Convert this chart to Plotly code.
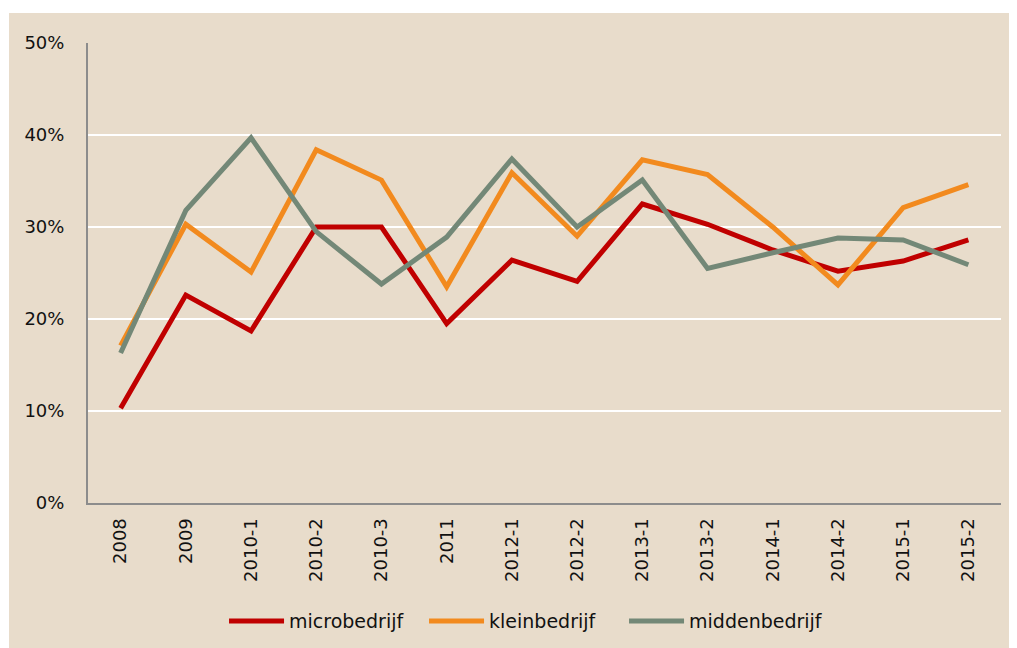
import plotly.graph_objects as go

periods = ["2008", "2009", "2010-1", "2010-2", "2010-3", "2011", "2012-1",
           "2012-2", "2013-1", "2013-2", "2014-1", "2014-2", "2015-1", "2015-2"]

micro = [0.103, 0.226, 0.187, 0.300, 0.300, 0.195, 0.264, 0.241,
         0.325, 0.303, 0.275, 0.252, 0.263, 0.286]
klein = [0.171, 0.303, 0.251, 0.384, 0.351, 0.235, 0.359, 0.290,
         0.373, 0.357, 0.300, 0.237, 0.321, 0.346]
midden = [0.163, 0.318, 0.397, 0.295, 0.238, 0.289, 0.374, 0.300,
          0.351, 0.255, 0.272, 0.288, 0.286, 0.259]

series = [("microbedrijf", micro, "#C00000"),
          ("kleinbedrijf", klein, "#F28A1E"),
          ("middenbedrijf", midden, "#738877")]

bg = "#E8DCCB"

fig = go.Figure()
for name, vals, col in series:
    fig.add_trace(go.Scatter(x=periods, y=vals, mode="lines", name=name,
                             line=dict(color=col, width=5)))

# page has an 8px body margin, so the figure is drawn at (8, 8)
W, H = 1009, 640
ml, mr, mt, mb = 80, 16, 35, 145
pw, ph = W - ml - mr, H - mt - mb

# beige panel with a thin white edge on top and left
fig.add_shape(type="rect", xref="paper", yref="paper", layer="below",
              x0=(1 - ml) / pw, x1=(W + 5 - ml) / pw,
              y0=-(mb + 5) / ph, y1=(ph + mt - 5) / ph,
              fillcolor=bg, line_width=0)

fig.update_layout(
    width=W, height=H,
    margin=dict(l=ml, r=mr, t=mt, b=mb, autoexpand=False),
    paper_bgcolor="white",
    plot_bgcolor="rgba(0,0,0,0)",
    font=dict(family="DejaVu Sans", size=15, color="#111111"),
    legend=dict(orientation="h", x=0.149, xanchor="left",
                yref="container", y=0.042, yanchor="middle",
                font=dict(size=19), itemwidth=55, entrywidth=130,
                bgcolor="rgba(0,0,0,0)"),
    showlegend=True,
)
fig.update_xaxes(type="category", showgrid=False, tickangle=-90,
                 showline=True, linecolor="#8C8C8C", linewidth=2, ticks="",
                 tickfont=dict(size=18), ticklabelstandoff=6,
                 range=[-0.5, len(periods) - 0.5])
fig.update_yaxes(range=[0, 0.5], dtick=0.1, tickformat=".0%",
                 showgrid=True, gridcolor="white", gridwidth=2,
                 zeroline=False, showline=True, linecolor="#8C8C8C",
                 linewidth=2, ticks="", tickfont=dict(size=18),
                 ticklabelstandoff=18)

fig.write_html("out.html")
